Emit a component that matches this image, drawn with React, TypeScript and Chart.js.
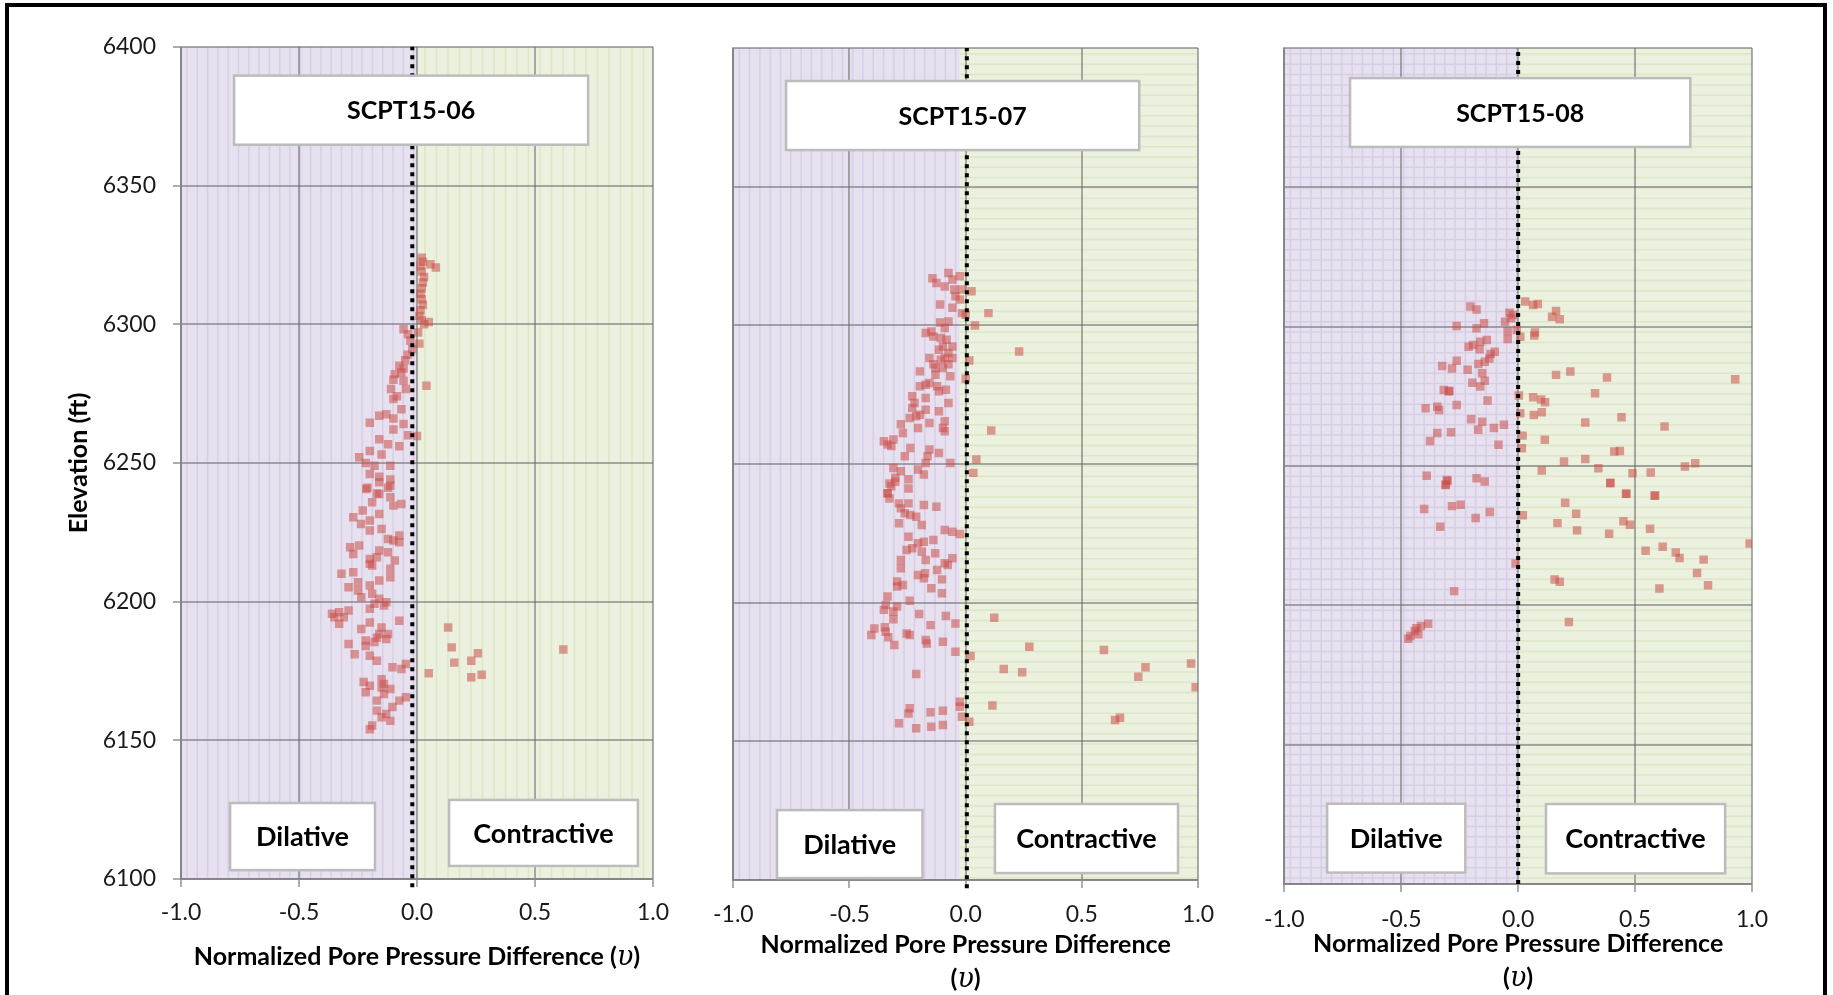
import React, { useEffect, useRef } from "react";
import { Chart, registerables } from "chart.js";

Chart.register(...registerables);

// ---------- text ----------
const panelNames = ["SCPT15-06", "SCPT15-07", "SCPT15-08"];
const zoneNames = ["Dilative", "Contractive"];
const xAxisTitle = "Normalized Pore Pressure Difference";
const xAxisSymbol = "υ";
const yAxisTitle = "Elevation (ft)";
const xTickValues = [-1, -0.5, 0, 0.5, 1];
const yTickValues = [6100, 6150, 6200, 6250, 6300, 6350, 6400];

// ---------- data: [normalized pore pressure difference, elevation ft] ----------
const scpt1506: [number, number][] = [
  [0.02, 6324], [0.025, 6322.5], [0.015, 6321], [0.057, 6321.6], [0.08, 6320.4], [0.02, 6319],
  [0.03, 6317], [0.025, 6315], [0.02, 6313], [0.015, 6311], [0.02, 6309], [0.025, 6307],
  [0.015, 6305], [0.01, 6303], [0.02, 6301.5], [0.05, 6300.8], [0.03, 6300], [0.005, 6297],
  [0.01, 6293], [0.04, 6277.8], [0.0, 6259.7],
  [0.132, 6190.7], [0.147, 6183.5], [0.158, 6178], [0.23, 6178.7], [0.258, 6181.4],
  [0.23, 6172.7], [0.274, 6173.6], [0.05, 6174.2], [0.62, 6182.7],
  [-0.057, 6298.2], [-0.038, 6296.4], [-0.028, 6294], [-0.02, 6291], [-0.04, 6289], [-0.05, 6287],
  [-0.057, 6284], [-0.075, 6285], [-0.066, 6282.6], [-0.094, 6282], [-0.1, 6280], [-0.057, 6279.6],
  [-0.11, 6276.6], [-0.085, 6274], [-0.047, 6276.6], [-0.1, 6273], [-0.066, 6269.3], [-0.16, 6267],
  [-0.13, 6267.5], [-0.1, 6266], [-0.2, 6264.5], [-0.057, 6264], [-0.1, 6262], [-0.038, 6260],
  [-0.16, 6258.5], [-0.123, 6256.7], [-0.075, 6256], [-0.2, 6254.3], [-0.15, 6253], [-0.245, 6252],
  [-0.217, 6250], [-0.18, 6249], [-0.113, 6249], [-0.2, 6246], [-0.16, 6245], [-0.113, 6244],
  [-0.21, 6241], [-0.123, 6241], [-0.17, 6239],
  [-0.16, 6243], [-0.113, 6241.8], [-0.215, 6240.6], [-0.16, 6238.8], [-0.113, 6237.6],
  [-0.19, 6235.8], [-0.1, 6234.6], [-0.066, 6235.2], [-0.23, 6232.8], [-0.16, 6231.6],
  [-0.27, 6230.4], [-0.2, 6229.2], [-0.237, 6228], [-0.2, 6225.6], [-0.15, 6226.2],
  [-0.123, 6222.6], [-0.075, 6223.8], [-0.075, 6221.4], [-0.1, 6222], [-0.283, 6219.6],
  [-0.245, 6220.2], [-0.27, 6217.2], [-0.16, 6218.4], [-0.123, 6217.8], [-0.2, 6215.4],
  [-0.17, 6216], [-0.094, 6214.8], [-0.19, 6213], [-0.2, 6213.6], [-0.113, 6211.8],
  [-0.32, 6210], [-0.27, 6210.6], [-0.113, 6208.8], [-0.25, 6207], [-0.16, 6207.6],
  [-0.29, 6205.2], [-0.2, 6205.8], [-0.25, 6204], [-0.19, 6202.8], [-0.236, 6201.6],
  [-0.16, 6201], [-0.18, 6199.2], [-0.14, 6198.6], [-0.13, 6199.8], [-0.2, 6197.4],
  [-0.36, 6195.6], [-0.33, 6196.2], [-0.29, 6196.8], [-0.35, 6194.4], [-0.31, 6194.4],
  [-0.33, 6192], [-0.075, 6193.1], [-0.2, 6192.5], [-0.15, 6190.7], [-0.236, 6190.1],
  [-0.16, 6188.3], [-0.123, 6188.3], [-0.17, 6187], [-0.13, 6186.5], [-0.29, 6184.7],
  [-0.217, 6186], [-0.217, 6184], [-0.18, 6185.4], [-0.264, 6181], [-0.2, 6180.5],
  [-0.17, 6178.7], [-0.104, 6176.3], [-0.066, 6175.7], [-0.047, 6177.5], [-0.226, 6171],
  [-0.2, 6169.7], [-0.15, 6172], [-0.14, 6170.3], [-0.217, 6167.3], [-0.15, 6169],
  [-0.113, 6168.5], [-0.14, 6166.7], [-0.17, 6164.3], [-0.104, 6162], [-0.075, 6164.3],
  [-0.047, 6165.5], [-0.17, 6160.7], [-0.13, 6159.5], [-0.15, 6158.3], [-0.113, 6157],
  [-0.19, 6155.3], [-0.2, 6154],
];

const scpt1507: [number, number][] = [
  [-0.074, 6318.9], [-0.143, 6317], [-0.126, 6315.3], [-0.09, 6314], [-0.057, 6316.5], [-0.049, 6312.9],
  [-0.025, 6317.7], [-0.016, 6312.9], [-0.044, 6310.5], [-0.025, 6309.3], [-0.11, 6307.5], [-0.057, 6306.3],
  [-0.016, 6304.4], [-0.074, 6301.4], [-0.11, 6301], [-0.09, 6299], [-0.172, 6297.2], [-0.148, 6297.8],
  [-0.139, 6296], [-0.107, 6295.4], [-0.082, 6294.8], [-0.098, 6292.4], [-0.115, 6291.2], [-0.057, 6292.4],
  [-0.074, 6290], [-0.09, 6288.2], [-0.156, 6288.2], [-0.107, 6287.6], [-0.057, 6288.2], [-0.139, 6286],
  [-0.13, 6284.6], [-0.098, 6284.6], [-0.074, 6286], [-0.197, 6283.4], [-0.13, 6282.2], [-0.066, 6281.6],
  [-0.172, 6278.6], [-0.156, 6279.2], [-0.123, 6278], [-0.197, 6278], [-0.115, 6276.2], [-0.085, 6276.8],
  [-0.23, 6274.4], [-0.172, 6273.8], [-0.22, 6272], [-0.074, 6272], [-0.23, 6270.2], [-0.172, 6269.6],
  [-0.115, 6269], [-0.213, 6267.2], [-0.197, 6267.8], [-0.241, 6266.6], [-0.09, 6265.4], [-0.279, 6264.3],
  [-0.156, 6264.8], [-0.205, 6263], [-0.098, 6263], [-0.09, 6261.8], [-0.27, 6261.2], [-0.352, 6258.2],
  [-0.336, 6257], [-0.311, 6258.8], [-0.32, 6256.5], [-0.238, 6255.8], [-0.262, 6252.8], [-0.156, 6255.2],
  [-0.164, 6252.8], [-0.115, 6254], [-0.066, 6250.4], [-0.172, 6250.4], [-0.205, 6248], [-0.311, 6248.6],
  [-0.279, 6247.4], [-0.303, 6245], [-0.246, 6244.5], [-0.18, 6246.2], [-0.32, 6242], [-0.336, 6239.5],
  [0.025, 6312.3], [0.098, 6304.4], [0.0, 6303.8], [0.04, 6299.9], [0.23, 6290.6], [0.016, 6287.3],
  [0.0, 6280.7], [0.11, 6262.1], [0.046, 6251.6], [0.033, 6246.8],
  [-0.328, 6243], [-0.303, 6243.6], [-0.246, 6241.2], [-0.336, 6239.4], [-0.328, 6237.6], [-0.287, 6235.8],
  [-0.246, 6235.8], [-0.279, 6234], [-0.18, 6235.2], [-0.126, 6234.6], [-0.262, 6232.2], [-0.238, 6231.6],
  [-0.213, 6231], [-0.287, 6228.6], [-0.189, 6228], [-0.09, 6226.2], [-0.057, 6225.6], [-0.025, 6224.8],
  [-0.246, 6223.8], [-0.205, 6221.4], [-0.18, 6222], [-0.139, 6222.6], [-0.254, 6219], [-0.23, 6219.6],
  [-0.189, 6218.4], [-0.131, 6217.8], [-0.279, 6215.4], [-0.172, 6215.4], [-0.09, 6214.2], [-0.057, 6216],
  [-0.077, 6213.6], [-0.279, 6212.4], [-0.205, 6210], [-0.175, 6210.6], [-0.123, 6211.8], [-0.18, 6208.8],
  [-0.102, 6208.4], [-0.295, 6207.6], [-0.27, 6206.4], [-0.295, 6205.8], [-0.148, 6205.2], [-0.102, 6203.4],
  [-0.336, 6202.2], [-0.241, 6200.7], [-0.344, 6199.2], [-0.295, 6198.6], [-0.352, 6197.4], [-0.311, 6196.8],
  [-0.2, 6195.9], [-0.085, 6195.2], [-0.311, 6194], [-0.151, 6191.9], [-0.044, 6192.5], [-0.393, 6190.7],
  [-0.348, 6191.1], [-0.344, 6189.5], [-0.406, 6188.3], [-0.254, 6188.9], [-0.241, 6188.3], [-0.333, 6187.5],
  [-0.172, 6186.5], [-0.098, 6185.9], [-0.167, 6185.3], [-0.307, 6184.7], [-0.044, 6182.3], [-0.213, 6174.3],
  [-0.241, 6161.9], [-0.246, 6160], [-0.151, 6160.5], [-0.098, 6161], [-0.287, 6156.5], [-0.213, 6154.7],
  [-0.148, 6155.3], [-0.098, 6155.9], [-0.025, 6164.3], [-0.025, 6162.5], [-0.016, 6158.9],
  [0.123, 6194.6], [0.274, 6184.1], [0.021, 6180.8], [0.595, 6182.9], [0.164, 6176.1], [0.243, 6174.9],
  [0.774, 6176.7], [0.743, 6173.3], [0.97, 6178.1], [0.99, 6169.5], [0.115, 6162.9], [0.643, 6157.7],
  [0.664, 6158.5], [0.016, 6157.1],
];

const scpt1508: [number, number][] = [
  [-0.204, 6307.2], [-0.178, 6306.2], [-0.037, 6305], [-0.022, 6304.2], [-0.03, 6303], [-0.056, 6301.8],
  [-0.146, 6301.2], [-0.263, 6300.2], [-0.178, 6299.4], [-0.045, 6298.4], [-0.006, 6298.8], [-0.045, 6295.6],
  [-0.134, 6295.2], [-0.162, 6294.6], [-0.193, 6293.4], [-0.212, 6292.8], [-0.165, 6291.9], [-0.1, 6291],
  [-0.118, 6290.2], [-0.123, 6288.6], [-0.143, 6287.4], [-0.17, 6286.6], [-0.263, 6287.8], [-0.325, 6285.9],
  [-0.283, 6285], [-0.216, 6284.5], [-0.154, 6283.3], [-0.143, 6280.6], [-0.196, 6279.9], [-0.162, 6278.5],
  [-0.318, 6277.3], [-0.294, 6277], [-0.297, 6276.7], [-0.131, 6273.5], [-0.263, 6271.9], [-0.396, 6270.7],
  [-0.346, 6271.3], [-0.338, 6270.1], [-0.201, 6266.8], [-0.154, 6265.9], [-0.061, 6264.8], [-0.104, 6263.6],
  [-0.287, 6262.1], [-0.346, 6261.8], [-0.171, 6263], [-0.377, 6259], [-0.084, 6257.6], [-0.391, 6246.5],
  [-0.305, 6245], [-0.31, 6243.2], [-0.178, 6245.6], [-0.143, 6244.4],
  [0.03, 6309], [0.064, 6307.8], [0.084, 6308.1], [0.162, 6305.6], [0.145, 6303.6], [0.178, 6302.7],
  [0.072, 6297.9], [0.069, 6296.8], [0.009, 6296.4], [0.162, 6282.7], [0.223, 6283.9], [0.38, 6281.8],
  [0.928, 6281.1], [0.329, 6276.1], [0.003, 6275.3], [0.064, 6274.7], [0.098, 6273.9], [0.115, 6272.9],
  [0.009, 6268.9], [0.067, 6268.3], [0.101, 6269.3], [0.442, 6267.5], [0.287, 6265.6], [0.626, 6264.2],
  [0.019, 6260.9], [0.114, 6259.4], [0.016, 6256.4], [0.411, 6255.2], [0.435, 6255.4], [0.196, 6251.6],
  [0.287, 6252.5], [0.713, 6249.8], [0.757, 6251], [0.101, 6248.4], [0.343, 6249.2], [0.489, 6247.4],
  [0.567, 6247.7], [0.394, 6243.8], [0.461, 6240], [0.583, 6239.3],
  [-0.31, 6243.4], [-0.302, 6244.6], [-0.402, 6234.6], [-0.283, 6235.6], [-0.246, 6236.1], [-0.121, 6233.5],
  [-0.182, 6231.3], [-0.333, 6228.2], [-0.011, 6215], [-0.274, 6205.1], [-0.385, 6193.4], [-0.416, 6192.6],
  [-0.435, 6191.8], [-0.442, 6190.8], [-0.427, 6189.6], [-0.461, 6189], [-0.47, 6188],
  [0.394, 6244], [0.463, 6240], [0.586, 6239.4], [0.201, 6236.8], [0.248, 6232.9], [0.02, 6232.3],
  [0.168, 6229.5], [0.45, 6230.2], [0.478, 6228.9], [0.252, 6226.9], [0.389, 6225.7], [0.564, 6227.5],
  [0.99, 6222.2], [0.545, 6219.6], [0.618, 6221], [0.674, 6219], [0.69, 6217], [0.793, 6216.4],
  [0.765, 6211.6], [0.812, 6207.2], [0.156, 6209.3], [0.178, 6208.5], [0.604, 6206], [0.217, 6194],
];

const panelData = [scpt1506, scpt1507, scpt1508];

// ---------- layout / style ----------
type Box = [number, number, number, number]; // x1, x2, yTop, yBottom (data units)
interface Layout {
  left: number; top: number; width: number; height: number;
  yAxisW: number; xAxisH: number; padRight: number; padTop: number;
  divider: number; shadeSplit: number; dividerBottom: number;
  leftTex: "v" | "grid"; rightTex: "v" | "h";
  titleBox: Box; dilBox: Box; conBox: Box;
  showY: boolean; twoLineTitle: boolean; tickPad: number; titleYs: number[];
}

const layouts: Layout[] = [
  {
    left: 30, top: 16, width: 660, height: 979, yAxisW: 151, xAxisH: 116, padRight: 37, padTop: 22,
    divider: -0.02, shadeSplit: 0, dividerBottom: 6097, leftTex: "v", rightTex: "v",
    titleBox: [-0.775, 0.725, 6389.6, 6364.7], dilBox: [-0.792, -0.178, 6127.4, 6103.2],
    conBox: [0.136, 0.936, 6128.5, 6104.7], showY: true, twoLineTitle: false, tickPad: 12,
    titleYs: [940],
  },
  {
    left: 700, top: 20, width: 530, height: 975, yAxisW: 31, xAxisH: 115, padRight: 32, padTop: 28,
    divider: 0.005, shadeSplit: -0.025, dividerBottom: 6097, leftTex: "v", rightTex: "h",
    titleBox: [-0.773, 0.747, 6388.1, 6363.2], dilBox: [-0.812, -0.186, 6125.2, 6100.7],
    conBox: [0.126, 0.914, 6127.4, 6102.5], showY: false, twoLineTitle: true, tickPad: 13,
    titleYs: [924, 958],
  },
  {
    left: 1250, top: 20, width: 540, height: 975, yAxisW: 32, xAxisH: 111, padRight: 38, padTop: 28,
    divider: 0, shadeSplit: 0, dividerBottom: 6100, leftTex: "grid", rightTex: "h",
    titleBox: [-0.719, 0.736, 6389.2, 6364.5], dilBox: [-0.817, -0.226, 6128.8, 6104.1],
    conBox: [0.119, 0.885, 6128.7, 6103.8], showY: false, twoLineTitle: true, tickPad: 14,
    titleYs: [923, 957],
  },
];

const FONT = "Lato, 'Open Sans', 'DejaVu Sans', sans-serif";
const SYMBOL_FONT = "italic 27px 'DejaVu Serif', 'Liberation Serif', serif";
const PURPLE = "#e6e0ef";
const PURPLE_LINE = "#d7cee6";
const GREEN = "#ebf1de";
const GREEN_LINE = "#dce7c8";
const GRID = "rgba(105,105,110,0.55)";
const MARKER = "rgba(202,78,73,0.55)";

function makeBackground(lay: Layout) {
  return {
    id: "zoneBackground",
    beforeDraw(chart: any) {
      const { ctx, chartArea: a, scales } = chart;
      const split = scales.x.getPixelForValue(lay.shadeSplit);
      const step = 10.3;
      ctx.save();
      ctx.fillStyle = PURPLE;
      ctx.fillRect(a.left, a.top, split - a.left, a.bottom - a.top);
      ctx.fillStyle = GREEN;
      ctx.fillRect(split, a.top, a.right - split, a.bottom - a.top);
      ctx.lineWidth = 1.5;
      ctx.strokeStyle = PURPLE_LINE;
      ctx.beginPath();
      for (let px = a.left + 6; px < split - 1; px += step) {
        ctx.moveTo(px, a.top); ctx.lineTo(px, a.bottom);
      }
      if (lay.leftTex === "grid") {
        for (let py = a.top + 6; py < a.bottom; py += step) {
          ctx.moveTo(a.left, py); ctx.lineTo(split, py);
        }
      }
      ctx.stroke();
      ctx.strokeStyle = GREEN_LINE;
      ctx.beginPath();
      if (lay.rightTex === "v") {
        for (let px = split + 8; px < a.right; px += 11.5) {
          ctx.moveTo(px, a.top); ctx.lineTo(px, a.bottom);
        }
      } else {
        for (let py = a.top + 6; py < a.bottom; py += step) {
          ctx.moveTo(split, py); ctx.lineTo(a.right, py);
        }
      }
      ctx.stroke();
      ctx.restore();
    },
  };
}

function makeBoxes(lay: Layout, name: string) {
  const draw = (chart: any, box: Box, text: string, size: number) => {
    const { ctx, scales } = chart;
    const l = scales.x.getPixelForValue(box[0]);
    const r = scales.x.getPixelForValue(box[1]);
    const t = scales.y.getPixelForValue(box[2]);
    const b = scales.y.getPixelForValue(box[3]);
    ctx.fillStyle = "#ffffff";
    ctx.fillRect(l, t, r - l, b - t);
    ctx.strokeStyle = "#bcbcbc";
    ctx.lineWidth = 2.5;
    ctx.strokeRect(l, t, r - l, b - t);
    ctx.fillStyle = "#000";
    ctx.font = `bold ${size}px ${FONT}`;
    ctx.textAlign = "center";
    ctx.textBaseline = "middle";
    ctx.fillText(text, (l + r) / 2, (t + b) / 2 + 1);
  };
  return {
    id: "textBoxes",
    afterDatasetsDraw(chart: any) {
      chart.ctx.save();
      draw(chart, lay.titleBox, name, 25);
      draw(chart, lay.dilBox, zoneNames[0], 27);
      draw(chart, lay.conBox, zoneNames[1], 27);
      chart.ctx.restore();
    },
  };
}

function makeXTitle(lay: Layout) {
  return {
    id: "xTitle",
    afterDraw(chart: any) {
      const { ctx, chartArea: a } = chart;
      const bold = `bold 25px ${FONT}`;
      const cx = (a.left + a.right) / 2;
      const lines: { t: string; f: string }[][] = lay.twoLineTitle
        ? [[{ t: xAxisTitle, f: bold }], [{ t: "(", f: bold }, { t: xAxisSymbol, f: SYMBOL_FONT }, { t: ")", f: bold }]]
        : [[{ t: xAxisTitle + " (", f: bold }, { t: xAxisSymbol, f: SYMBOL_FONT }, { t: ")", f: bold }]];
      ctx.save();
      ctx.fillStyle = "#000";
      ctx.textAlign = "left";
      ctx.textBaseline = "alphabetic";
      lines.forEach((parts, i) => {
        let w = 0;
        parts.forEach((p) => { ctx.font = p.f; w += ctx.measureText(p.t).width; });
        let x = cx - w / 2;
        const y = lay.titleYs[i] + 9;
        parts.forEach((p) => {
          ctx.font = p.f;
          ctx.fillText(p.t, x, y);
          x += ctx.measureText(p.t).width;
        });
      });
      ctx.restore();
    },
  };
}

function Panel({ index }: { index: number }) {
  const ref = useRef<HTMLCanvasElement | null>(null);
  const lay = layouts[index];
  useEffect(() => {
    if (!ref.current) return;
    const pts = panelData[index];
    const chart = new Chart(ref.current, {
      type: "scatter",
      data: {
        datasets: [
          {
            type: "line",
            data: [
              { x: lay.divider, y: lay.dividerBottom },
              { x: lay.divider, y: yTickValues[yTickValues.length - 1] },
            ],
            borderColor: "#000",
            borderWidth: 4,
            borderDash: [4, 5],
            borderCapStyle: "butt",
            pointRadius: 0,
            fill: false,
            clip: false,
            order: 0,
          } as any,
          {
            data: pts.map(([x, y]) => ({ x, y })),
            backgroundColor: MARKER,
            borderWidth: 0,
            pointStyle: "rect",
            pointRadius: 6,
            pointHoverRadius: 6,
            order: 1,
          },
        ],
      },
      options: {
        responsive: false,
        maintainAspectRatio: false,
        animation: false,
        events: [],
        layout: { padding: { top: lay.padTop, right: lay.padRight, left: 0, bottom: 0 } },
        plugins: { legend: { display: false }, tooltip: { enabled: false } },
        scales: {
          x: {
            type: "linear",
            min: xTickValues[0],
            max: xTickValues[xTickValues.length - 1],
            afterBuildTicks: (s: any) => { s.ticks = xTickValues.map((v) => ({ value: v })); },
            afterFit: (s: any) => { s.height = lay.xAxisH; },
            ticks: {
              callback: (v: any) => Number(v).toFixed(1),
              font: { family: FONT, size: 23 },
              color: "#1a1a1a",
              padding: lay.tickPad,
              maxRotation: 0,
              autoSkip: false,
            },
            grid: { color: GRID, lineWidth: 2, tickLength: 8, tickColor: GRID, tickWidth: 2 },
            border: { color: GRID, width: 2 },
            title: { display: false },
          },
          y: {
            type: "linear",
            min: yTickValues[0],
            max: yTickValues[yTickValues.length - 1],
            afterBuildTicks: (s: any) => { s.ticks = yTickValues.map((v) => ({ value: v })); },
            afterFit: (s: any) => { s.width = lay.yAxisW; },
            ticks: {
              display: lay.showY,
              callback: (v: any) => String(v),
              font: { family: FONT, size: 23 },
              color: "#1a1a1a",
              padding: 17,
            },
            grid: {
              color: GRID, lineWidth: 2, drawTicks: lay.showY,
              tickLength: lay.showY ? 8 : 0, tickColor: GRID, tickWidth: 2,
            },
            border: { color: GRID, width: 2 },
            title: {
              display: lay.showY,
              text: yAxisTitle,
              font: { family: FONT, size: 25, weight: "bold" },
              color: "#000",
              padding: { top: 34, bottom: 0 },
            },
          },
        },
      },
      plugins: [makeBackground(lay), makeBoxes(lay, panelNames[index]), makeXTitle(lay)],
    } as any);
    return () => chart.destroy();
  }, [index]);
  return (
    <canvas
      ref={ref}
      width={lay.width}
      height={lay.height}
      style={{ position: "absolute", left: lay.left, top: lay.top, width: lay.width, height: lay.height }}
    />
  );
}

export default function App() {
  return (
    <div
      style={{
        position: "fixed", left: 0, top: 0, width: 1833, height: 995,
        overflow: "hidden", background: "#fff",
      }}
    >
      <div
        style={{
          position: "absolute", left: 5, top: 3, width: 1822, height: 1100,
          border: "4px solid #000", boxSizing: "border-box",
        }}
      />
      {layouts.map((_, i) => (
        <Panel key={i} index={i} />
      ))}
    </div>
  );
}
